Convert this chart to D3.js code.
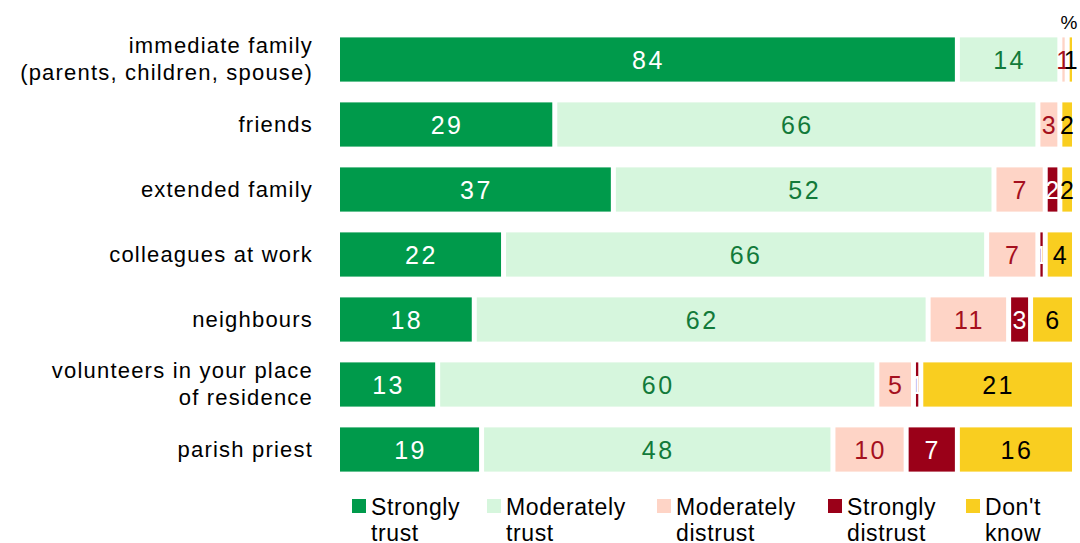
<!DOCTYPE html>
<html>
<head>
  <meta charset="utf-8">
  <title>Trust chart</title>
  <style>
    body { margin: 0; background: #fff; }
    svg { display: block; }
  </style>
</head>
<body>
  <svg width="1080" height="543"></svg>
  <script src="https://d3js.org/d3.v7.min.js"></script>
  <script>
  // data
  var categories = [
    ["immediate family", "(parents, children, spouse)"],
    ["friends"],
    ["extended family"],
    ["colleagues at work"],
    ["neighbours"],
    ["volunteers in your place", "of residence"],
    ["parish priest"]
  ];
  var seriesNames = [["Strongly", "trust"], ["Moderately", "trust"], ["Moderately", "distrust"], ["Strongly", "distrust"], ["Don't", "know"]];
  var stronglyTrust     = [84, 29, 37, 22, 18, 13, 19];
  var moderatelyTrust   = [14, 66, 52, 66, 62, 60, 48];
  var moderatelyDistrust = [1, 3, 7, 7, 11, 5, 10];
  var stronglyDistrust  = [0, 0, 2, 1, 3, 1, 7];
  var dontKnow          = [1, 2, 2, 4, 6, 21, 16];

  var fills = ["#009A4B", "#D6F6DD", "#FED4C6", "#9A0018", "#F9CE20"];
  var textColors = ["#ffffff", "#127A3A", "#A5101E", "#ffffff", "#000000"];

  var series = [stronglyTrust, moderatelyTrust, moderatelyDistrust, stronglyDistrust, dontKnow];
  var keys = categories.map(function(d) { return d.join(" "); });

  var svg = d3.select("svg");

  var x = d3.scaleLinear().domain([0, 100]).range([340, 1072]);
  var y = d3.scaleBand().domain(keys).range([27, 482]).paddingInner(0.32).paddingOuter(0.16);

  // stacked rows
  var rows = keys.map(function(k, i) {
    var acc = 0;
    return series.map(function(s, j) {
      var seg = { cat: k, s: j, v: s[i], x0: acc, x1: acc + s[i] };
      acc += s[i];
      return seg;
    });
  });
  var segs = d3.merge(rows).filter(function(d) { return d.v > 0; });

  var gap = 5;
  svg.append("g").selectAll("rect")
    .data(segs)
    .enter()
    .append("rect")
    .attr("x", function(d) { return d.x0 === 0 ? x(0) : x(d.x0) + gap; })
    .attr("y", function(d) { return y(d.cat); })
    .attr("width", function(d) { return Math.max(1.5, x(d.x1) - x(d.x0) - (d.x0 === 0 ? 0 : gap)); })
    .attr("height", y.bandwidth())
    .attr("fill", function(d) { return fills[d.s]; });

  svg.append("g").selectAll("text")
    .data(segs)
    .enter()
    .append("text")
    .attr("x", function(d) {
      var a = d.x0 === 0 ? x(0) : x(d.x0) + gap;
      return (a + x(d.x1)) / 2 + 1;
    })
    .attr("y", function(d) { return y(d.cat) + y.bandwidth() / 2; })
    .attr("dy", "0.36em")
    .attr("text-anchor", "middle")
    .attr("font-family", "Liberation Sans, Arial, sans-serif")
    .attr("font-size", 25)
    .attr("letter-spacing", 2.5)
    .attr("fill", function(d) { return textColors[d.s]; })
    .text(function(d) { return d.v; });

  // category labels
  var lab = svg.append("g").selectAll("text")
    .data(categories)
    .enter()
    .append("text")
    .attr("text-anchor", "end")
    .attr("font-family", "Liberation Sans, Arial, sans-serif")
    .attr("font-size", 22)
    .attr("letter-spacing", 1.2)
    .attr("fill", "#000");
  lab.each(function(d, i) {
    var cy = y(keys[i]) + y.bandwidth() / 2;
    var t = d3.select(this);
    d.forEach(function(line, li) {
      t.append("tspan")
        .attr("x", 313)
        .attr("y", cy + 7 + (li - (d.length - 1) / 2) * 26.5)
        .text(line);
    });
  });

  // percent sign
  svg.append("text")
    .attr("x", 1069).attr("y", 29)
    .attr("text-anchor", "middle")
    .attr("font-family", "Liberation Sans, Arial, sans-serif")
    .attr("font-size", 19)
    .text("%");

  // legend
  var legendX = [352, 487, 657, 828, 966];
  var leg = svg.append("g").selectAll("g")
    .data(seriesNames)
    .enter()
    .append("g")
    .attr("transform", function(d, i) { return "translate(" + legendX[i] + ",0)"; });
  leg.append("rect")
    .attr("x", 0).attr("y", 499)
    .attr("width", 14).attr("height", 14)
    .attr("fill", function(d, i) { return fills[i]; });
  leg.append("text")
    .attr("font-family", "Liberation Sans, Arial, sans-serif")
    .attr("font-size", 23)
    .attr("letter-spacing", 0.6)
    .attr("fill", "#000")
    .each(function(d) {
      var t = d3.select(this);
      d.forEach(function(line, li) {
        t.append("tspan").attr("x", 19).attr("y", 515 + li * 26).text(line);
      });
    });
  </script>
</body>
</html>
